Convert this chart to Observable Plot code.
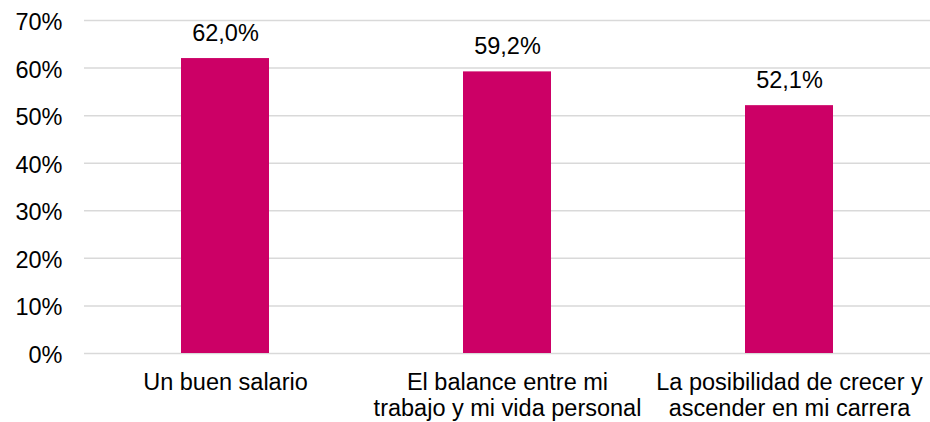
<!DOCTYPE html>
<html>
<head>
<meta charset="utf-8">
<script src="https://cdn.jsdelivr.net/npm/d3@7"></script>
<script src="https://cdn.jsdelivr.net/npm/@observablehq/plot@0.6"></script>
<style>
  html, body { margin: 0; padding: 0; background: #fff; }
  #chart svg { display: block; font-family: "Liberation Sans", Arial, sans-serif; }
</style>
</head>
<body>
<div id="chart"></div>
<script>
const categories = [
  "Un buen salario",
  "El balance entre mi\ntrabajo y mi vida personal",
  "La posibilidad de crecer y\nascender en mi carrera"
];
const values = [0.620, 0.592, 0.521];
const valueLabels = ["62,0%", "59,2%", "52,1%"];
const yTicks = [0, 0.1, 0.2, 0.3, 0.4, 0.5, 0.6, 0.7];

const data = categories.map((c, i) => ({category: c, value: values[i], label: valueLabels[i]}));

const FS = 23.5;
const chart = Plot.plot({
  width: 930,
  height: 422,
  marginLeft: 84,
  marginRight: 0,
  marginTop: 20,
  marginBottom: 69,
  style: {fontFamily: "'Liberation Sans', Arial, sans-serif", fontSize: FS + "px", color: "#000", background: "#fff"},
  x: {domain: categories, padding: 0, label: null},
  y: {domain: [0, 0.7], label: null},
  marks: [
    Plot.gridY(yTicks, {stroke: "#d9d9d9", strokeOpacity: 1, strokeWidth: 1.5}),
    Plot.barY(data, {x: "category", y: "value", fill: "#CC0066", insetLeft: 97, insetRight: 97}),
    Plot.text(data, {x: "category", y: "value", text: "label", dy: -25, fill: "#000", fontSize: FS}),
    Plot.axisY(yTicks, {tickFormat: d => Math.round(d * 100) + "%", tickSize: 0, tickPadding: 22, dy: 2, fontSize: FS, fill: "#000"}),
    Plot.axisX({tickSize: 0, tickPadding: 18, fontSize: FS, fill: "#000", lineHeight: 1.1, label: null})
  ]
});
document.getElementById("chart").appendChild(chart);
</script>
</body>
</html>
